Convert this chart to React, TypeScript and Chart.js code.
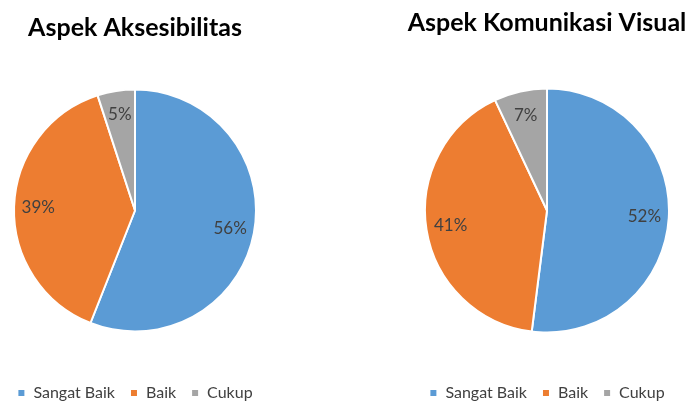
import React, { useEffect, useRef } from "react";
import { Chart, registerables } from "chart.js";

Chart.register(...registerables);

const categories = ["Sangat Baik", "Baik", "Cukup"];
const aksesibilitasValues = [56, 39, 5];
const komunikasiValues = [52, 41, 7];
const titles = ["Aspek Aksesibilitas", "Aspek Komunikasi Visual"];
const colors = ["#5B9BD5", "#ED7D31", "#A5A5A5"];

const FONT = "Lato, 'Open Sans', sans-serif";
const CANVAS_H = 411;

const labelPlugin = {
  id: "sliceLabels",
  afterDatasetsDraw(chart: any) {
    const ctx = chart.ctx;
    const meta = chart.getDatasetMeta(0);
    const data = chart.data.datasets[0].data as number[];
    ctx.save();
    ctx.font = `17px ${FONT}`;
    ctx.fillStyle = "#404040";
    ctx.textAlign = "center";
    ctx.textBaseline = "middle";
    meta.data.forEach((arc: any, i: number) => {
      const p = arc.getProps(["x", "y", "startAngle", "endAngle", "outerRadius"], true);
      const mid = (p.startAngle + p.endAngle) / 2;
      const r = p.outerRadius * 0.8;
      ctx.fillText(`${data[i]}%`, p.x + Math.cos(mid) * r, p.y + Math.sin(mid) * r);
    });
    ctx.restore();
  },
};

function PiePanel(props: {
  values: number[];
  title: string;
  left: number;
  width: number;
  radius: number;
  titleTop: number;
  titleBottom: number;
}) {
  const ref = useRef<HTMLCanvasElement | null>(null);
  useEffect(() => {
    if (!ref.current) return;
    const chart = new Chart(ref.current, {
      type: "pie",
      data: {
        labels: categories,
        datasets: [
          {
            data: props.values,
            backgroundColor: colors,
            borderColor: "#FFFFFF",
            borderWidth: 2,
          },
        ],
      },
      options: {
        responsive: false,
        animation: false,
        radius: props.radius,
        layout: { padding: 0 },
        plugins: {
          title: {
            display: true,
            text: props.title,
            color: "#000000",
            font: { family: FONT, size: 25, weight: "bold" },
            padding: { top: props.titleTop, bottom: props.titleBottom },
          },
          legend: {
            position: "bottom",
            labels: {
              boxWidth: 8,
              boxHeight: 8,
              padding: 15,
              color: "#404040",
              font: { family: FONT, size: 16 },
            },
          },
          tooltip: { enabled: false },
        },
      } as any,
      plugins: [labelPlugin],
    });
    return () => chart.destroy();
  }, []);
  return (
    <div style={{ position: "absolute", left: props.left, top: 0, width: props.width, height: CANVAS_H }}>
      <canvas ref={ref} width={props.width} height={CANVAS_H} style={{ width: props.width, height: CANVAS_H }} />
    </div>
  );
}

export default function App() {
  return (
    <div style={{ position: "fixed", left: 0, top: 0, width: 694, height: 401, background: "#fff", overflow: "hidden" }}>
      <PiePanel values={aksesibilitasValues} title={titles[0]} left={-20} width={310} radius={121} titleTop={13} titleBottom={8} />
      <PiePanel values={komunikasiValues} title={titles[1]} left={400} width={294} radius={122} titleTop={8} titleBottom={13} />
    </div>
  );
}
